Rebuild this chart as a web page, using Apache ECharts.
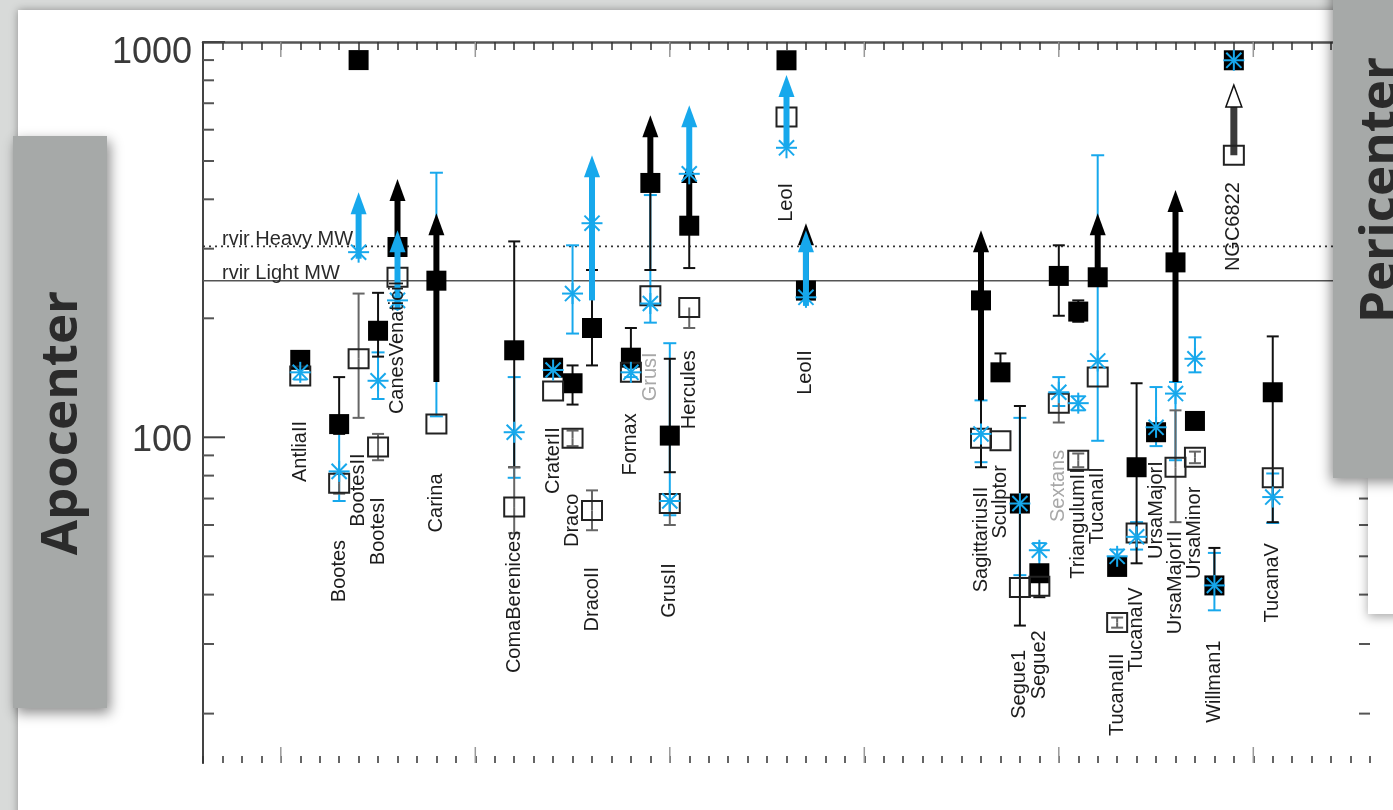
<!DOCTYPE html>
<html>
<head>
<meta charset="utf-8">
<title>Apocenter</title>
<script src="https://cdn.jsdelivr.net/npm/echarts@6/dist/echarts.min.js"></script>
<style>
  html, body { margin: 0; padding: 0; background: #d8dad9; overflow: hidden; }
  #c { width: 1393px; height: 810px; }
</style>
</head>
<body>
<div id="c"></div>
<script>
// ---- galaxies: slot on the x axis, name, and the value where the vertical name starts ----
const galaxyX = [5, 7, 8, 9, 10, 12, 16, 18, 19, 20, 22, 23, 24, 25, 30, 31, 40, 41, 42, 43, 44, 45, 46, 47, 48, 49, 50, 51, 52, 53, 55];
const galaxyNames = ['AntliaII', 'Bootes', 'BootesII', 'BootesI', 'CanesVenaticiI', 'Carina', 'ComaBerenices', 'CraterII', 'Draco', 'DracoII',
  'Fornax', 'GrusI', 'GrusII', 'Hercules', 'LeoI', 'LeoII', 'SagittariusII', 'Sculptor', 'Segue1', 'Segue2', 'Sextans', 'TriangulumII',
  'TucanaII', 'TucanaIII', 'TucanaIV', 'UrsaMajorI', 'UrsaMajorII', 'UrsaMinor', 'Willman1', 'NGC6822', 'TucanaV'];
const labelTop = [110, 55, 91, 70.5, 249, 81, 58, 106, 72, 47, 115, 164, 48, 166, 440, 166, 75, 85, 29, 32.5, 93, 83.5, 84, 28.4, 41.7, 87, 58, 75, 30.6, 442, 54];

// ---- apocenters [slot, value, lower end, upper end] (kpc) ----
const heavyApo = [
  [5, 157, 152, 162], [7, 108, 102, 142], [8, 900, null, null], [9, 186, 160, 232], [10, 303, null, null],
  [12, 249, null, null], [16, 166, 84, 313], [18, 150, 146, 155], [19, 137, 121, 152], [20, 189, 152, 265],
  [22, 159, 150, 189], [23, 440, 265, null], [24, 101, 81.6, 158], [25, 343, 268, null], [30, 899, null, null],
  [31, 235, null, null], [40, 222, 84, null], [41, 146, 140, 163], [42, 68, 33.4, 120], [43, 45.3, 39.4, null],
  [44, 256, 203, 306], [45, 208, 196, 222], [46, 254, null, null], [47, 47, null, null], [48, 84, 48, 137],
  [49, 103, 98, 108], [50, 277, null, null], [51, 110, 106, 115], [52, 42.2, null, 52.5], [53, 899, null, null],
  [55, 130, 61, 180]
];
// open-ended ranges (lower limits) [slot, from, to]
const heavyLimits = [[10, 303, 450], [12, 138, 369], [23, 440, 653], [25, 343, 500], [31, 235, 348], [40, 124, 334], [46, 254, 369], [50, 138, 422]];

const lightApo = [
  [5, 143, null, null], [7, 76.5, 72, 81], [8, 158, 112, 231], [9, 94.5, 87.5, 102], [10, 254, null, null],
  [12, 108, null, null], [16, 66.6, 57.2, 84], [18, 131, null, null], [19, 99.4, 95, 104], [20, 65.3, 58.2, 73.4],
  [22, 146, null, null], [23, 228, null, null], [24, 68, 60, null], [25, 213, 189, null], [30, 646, null, null],
  [40, 99.4, null, null], [41, 98, null, null], [42, 41.7, null, null], [43, 42, null, null], [44, 122, 109, null],
  [45, 87.5, 84, 91], [46, 142, null, null], [47, 34, 33, 35], [48, 57.3, null, null], [50, 84, 61, 117],
  [51, 89, 86, 92], [53, 517, null, null], [55, 79, null, null]
];
const lightLimits = [[53, 517, 778]];

const cosmoApo = [
  [5, 146, 140, 152], [7, 82, 69, 106], [8, 294, null, null], [9, 139, 125, 164], [10, 222, null, null],
  [12, null, 113, 467], [16, 103, 79, 142], [18, 148, 144, 152], [19, 231, 183, 306], [20, 348, null, null],
  [22, 146, 142, 150], [23, 218, 195, 410], [24, 69, 63.5, 173], [25, 464, null, null], [30, 540, null, null],
  [31, 226, null, null], [40, 102, 86.5, 124], [42, 68, 44.8, 112], [43, 51.8, 47, 54], [44, 130, 120, 142],
  [45, 122, 117, 127], [46, 156, 98, 517], [47, 50, 48, 52], [48, 56, 52, 61], [49, 106, 95, 134],
  [50, 129, 87.5, 138], [51, 158, 146, 179], [52, 42.2, 36.5, 51], [53, 899, null, null], [55, 70.6, 60.7, 81]
];
const cosmoLimits = [[8, 283, 417], [10, 210, 334], [20, 222, 517], [25, 464, 692], [30, 540, 825], [31, 215, 334]];

// ---- virial radii of the two Milky Way models ----
const rvirValues = [304, 249];
const rvirNames = ['rvir Heavy MW', 'rvir Light MW'];

// ---- axis ticks ----
const yMinorTicks = [20, 30, 40, 50, 60, 70, 80, 90, 200, 300, 400, 500, 600, 700, 800, 900];
const yMajorTicks = [100, 1000];
const yTickLabels = ['100', '1000'];
const xMajorTicks = [4, 14, 24, 34, 44, 54];

const faintNames = ['GrusI', 'Sextans'];
const CYAN = '#17a8ec';
const FONT = '"Liberation Sans", Arial, sans-serif';

function seg(p, q, style) {
  return { type: 'line', shape: { x1: p[0], y1: p[1], x2: q[0], y2: q[1] }, style: style };
}

function errorBars(api, rec, color, cap, lw) {
  const x = rec[0], v = rec[1], lo = rec[2], hi = rec[3];
  const st = { stroke: color, lineWidth: lw };
  const out = [];
  const ends = [];
  if (v == null) {
    if (lo != null && hi != null) { out.push(seg(api.coord([x, lo]), api.coord([x, hi]), st)); ends.push(lo, hi); }
  } else {
    if (lo != null) { out.push(seg(api.coord([x, v]), api.coord([x, lo]), st)); ends.push(lo); }
    if (hi != null) { out.push(seg(api.coord([x, v]), api.coord([x, hi]), st)); ends.push(hi); }
  }
  ends.forEach(function (e) {
    const p = api.coord([x, e]);
    out.push(seg([p[0] - cap / 2, p[1]], [p[0] + cap / 2, p[1]], st));
  });
  return out;
}

function arrow(api, rec, color, lw, headFill, headStroke) {
  const a = api.coord([rec[0], rec[1]]);
  const t = api.coord([rec[0], rec[2]]);
  const h = 22, w = 8;
  return [
    seg(a, [t[0], t[1] + h - 3], { stroke: color, lineWidth: lw }),
    { type: 'polygon', shape: { points: [[t[0], t[1]], [t[0] - w, t[1] + h], [t[0] + w, t[1] + h]] },
      style: { fill: headFill, stroke: headStroke || null, lineWidth: headStroke ? 1.5 : 0 } }
  ];
}

function asterisk(c, r, color) {
  const d = r * 0.72;
  const st = { stroke: color, lineWidth: 2 };
  return [
    seg([c[0], c[1] - r], [c[0], c[1] + r], st),
    seg([c[0] - r, c[1]], [c[0] + r, c[1]], st),
    seg([c[0] - d, c[1] - d], [c[0] + d, c[1] + d], st),
    seg([c[0] - d, c[1] + d], [c[0] + d, c[1] - d], st)
  ];
}

function pts(arr) { return arr.map(function (d) { return [d[0], d[1] == null ? d[2] : d[1]]; }); }

function customSeries(name, data, render) {
  return {
    type: 'custom', name: name, coordinateSystem: 'cartesian2d', xAxisIndex: 0, yAxisIndex: 0,
    silent: true, clip: false, animation: false,
    encode: { x: 0, y: 1 }, data: data, renderItem: render
  };
}

const chart = echarts.init(document.getElementById('c'), null, { renderer: 'canvas', width: 1393, height: 810 });

const series = [
  // virial radius lines with their captions
  customSeries('rvir', rvirValues.map(function (v) { return [0, v]; }), function (params, api) {
    const cs = params.coordSys;
    const y = api.coord([0, rvirValues[params.dataIndex]])[1];
    const dotted = params.dataIndex === 0;
    return { type: 'group', children: [
      seg([cs.x, y], [cs.x + cs.width, y], dotted
        ? { stroke: '#333', lineWidth: 1.6, lineDash: [2, 4] }
        : { stroke: '#555', lineWidth: 1.6 }),
      { type: 'text', x: cs.x + 19, y: y + 3, style: { text: rvirNames[params.dataIndex], font: '20px ' + FONT, fill: '#2a2a2a', align: 'left', verticalAlign: 'bottom' } }
    ] };
  }),
  // thin cyan ranges
  customSeries('cosmoErr', pts(cosmoApo), function (params, api) {
    return { type: 'group', children: errorBars(api, cosmoApo[params.dataIndex], CYAN, 13, 2) };
  }),
  // thin black ranges
  customSeries('heavyErr', pts(heavyApo), function (params, api) {
    return { type: 'group', children: errorBars(api, heavyApo[params.dataIndex], '#111', 12, 2) };
  }),
  // thin grey ranges of the open squares
  customSeries('lightErr', pts(lightApo), function (params, api) {
    return { type: 'group', children: errorBars(api, lightApo[params.dataIndex], '#666', 12, 2) };
  }),
  // black lower-limit arrows
  customSeries('heavyLim', heavyLimits.map(function (d) { return [d[0], d[1]]; }), function (params, api) {
    return { type: 'group', children: arrow(api, heavyLimits[params.dataIndex], '#000', 6, '#000') };
  }),
  // filled squares
  customSeries('heavy', pts(heavyApo), function (params, api) {
    const c = api.coord([heavyApo[params.dataIndex][0], heavyApo[params.dataIndex][1]]);
    return { type: 'rect', shape: { x: c[0] - 10, y: c[1] - 10, width: 20, height: 20 }, style: { fill: '#000' } };
  }),
  // grey lower-limit arrows with hollow heads
  customSeries('lightLim', lightLimits.map(function (d) { return [d[0], d[1]]; }), function (params, api) {
    return { type: 'group', children: arrow(api, lightLimits[params.dataIndex], '#3a3a3a', 7, '#fff', '#111') };
  }),
  // open squares
  customSeries('light', pts(lightApo), function (params, api) {
    const c = api.coord([lightApo[params.dataIndex][0], lightApo[params.dataIndex][1]]);
    return { type: 'rect', shape: { x: c[0] - 10, y: c[1] - 9.5, width: 20, height: 19 }, style: { fill: 'none', stroke: '#222', lineWidth: 2 } };
  }),
  // cyan lower-limit arrows
  customSeries('cosmoLim', cosmoLimits.map(function (d) { return [d[0], d[1]]; }), function (params, api) {
    return { type: 'group', children: arrow(api, cosmoLimits[params.dataIndex], CYAN, 6, CYAN) };
  }),
  // cyan asterisks
  customSeries('cosmo', pts(cosmoApo), function (params, api) {
    const d = cosmoApo[params.dataIndex];
    if (d[1] == null) return { type: 'group', children: [] };
    return { type: 'group', children: asterisk(api.coord([d[0], d[1]]), 10.5, CYAN) };
  }),
  // galaxy names, written upwards
  customSeries('names', galaxyX.map(function (x, i) { return [x, labelTop[i]]; }), function (params, api) {
    const i = params.dataIndex;
    const p = api.coord([galaxyX[i], labelTop[i]]);
    const faint = faintNames.indexOf(galaxyNames[i]) >= 0;
    return { type: 'text', x: p[0], y: p[1], rotation: Math.PI / 2,
      style: { text: galaxyNames[i], font: '20px ' + FONT, fill: faint ? '#a8a8a8' : '#1c1c1c', align: 'right', verticalAlign: 'middle' } };
  }),
  // minor ticks on both vertical axes
  customSeries('yMinor', yMinorTicks.map(function (v) { return [0, v]; }), function (params, api) {
    const cs = params.coordSys;
    const y = api.coord([0, yMinorTicks[params.dataIndex]])[1];
    const st = { stroke: '#555', lineWidth: 2 };
    return { type: 'group', children: [seg([cs.x, y], [cs.x + 11, y], st), seg([cs.x + cs.width - 11, y], [cs.x + cs.width, y], st)] };
  }),
  // major ticks and their labels
  customSeries('yMajor', yMajorTicks.map(function (v) { return [0, v]; }), function (params, api) {
    const cs = params.coordSys;
    const y = api.coord([0, yMajorTicks[params.dataIndex]])[1];
    const st = { stroke: '#444', lineWidth: 2 };
    return { type: 'group', children: [
      seg([cs.x, y], [cs.x + 22, y], st), seg([cs.x + cs.width - 22, y], [cs.x + cs.width, y], st),
      { type: 'text', x: cs.x - 11, y: y + (params.dataIndex === 1 ? 11 : 4),
        style: { text: yTickLabels[params.dataIndex], font: '36px ' + FONT, fill: '#3a3a3a', align: 'right', verticalAlign: 'middle' } }
    ] };
  }),
  // long ticks on the horizontal axes
  customSeries('xMajor', xMajorTicks.map(function (x) { return [x, 100]; }), function (params, api) {
    const cs = params.coordSys;
    const x = api.coord([xMajorTicks[params.dataIndex], 100])[0];
    const st = { stroke: '#999', lineWidth: 1.5 };
    return { type: 'group', children: [seg([x, cs.y], [x, cs.y + 15], st), seg([x, cs.y + cs.height - 16], [x, cs.y + cs.height], st)] };
  })
];

const boxFont = 'bold 51px "Open Sans", "DejaVu Sans", sans-serif';

chart.setOption({
  backgroundColor: '#d8dad9',
  animation: false,
  grid: { left: 203, top: 42, right: 23, bottom: 47, containLabel: false },
  xAxis: [
    { type: 'value', min: 0, max: 60, interval: 1, position: 'bottom',
      axisLine: { show: false }, axisLabel: { show: false }, splitLine: { show: false },
      axisTick: { show: true, inside: true, length: 7, lineStyle: { color: '#333', width: 1.5 } } },
    { type: 'value', min: 0, max: 60, interval: 1, position: 'top',
      axisLine: { show: true, lineStyle: { color: '#555', width: 2.5 } }, axisLabel: { show: false }, splitLine: { show: false },
      axisTick: { show: true, inside: true, length: 8, lineStyle: { color: '#333', width: 1.5 } } }
  ],
  yAxis: [
    { type: 'log', logBase: 10, min: 15, max: 1000, position: 'left',
      axisLine: { show: true, lineStyle: { color: '#777', width: 2 } }, axisTick: { show: false }, axisLabel: { show: false }, splitLine: { show: false } },
    { type: 'log', logBase: 10, min: 15, max: 1000, position: 'right',
      axisLine: { show: true, lineStyle: { color: '#444', width: 2 } }, axisTick: { show: false }, axisLabel: { show: false }, splitLine: { show: false } }
  ],
  graphic: [
    // white slide panel
    { type: 'rect', z: -100, shape: { x: 18, y: 10, width: 1420, height: 840 },
      style: { fill: '#ffffff', shadowBlur: 8, shadowColor: 'rgba(0,0,0,0.35)' } },
    // small panel under the right-hand tab
    { type: 'rect', z: 90, shape: { x: 1368, y: 478, width: 60, height: 136 },
      style: { fill: '#ffffff', shadowBlur: 10, shadowOffsetY: 3, shadowColor: 'rgba(0,0,0,0.35)' } },
    // left tab
    { type: 'rect', z: 100, shape: { x: 13, y: 136, width: 94, height: 572 },
      style: { fill: '#a6a9a8', shadowBlur: 12, shadowOffsetX: 3, shadowOffsetY: 5, shadowColor: 'rgba(0,0,0,0.45)' } },
    { type: 'text', z: 101, x: 62, y: 423, rotation: Math.PI / 2,
      style: { text: 'Apocenter', font: boxFont, fill: '#2b2b2b', align: 'center', verticalAlign: 'middle' } },
    // right tab
    { type: 'rect', z: 100, shape: { x: 1333, y: -20, width: 100, height: 498 },
      style: { fill: '#a6a9a8', shadowBlur: 12, shadowOffsetX: -2, shadowOffsetY: 4, shadowColor: 'rgba(0,0,0,0.45)' } },
    { type: 'text', z: 101, x: 1381, y: 190, rotation: Math.PI / 2,
      style: { text: 'Pericenter', font: boxFont, fill: '#2b2b2b', align: 'center', verticalAlign: 'middle' } }
  ],
  series: series
});
</script>
</body>
</html>
